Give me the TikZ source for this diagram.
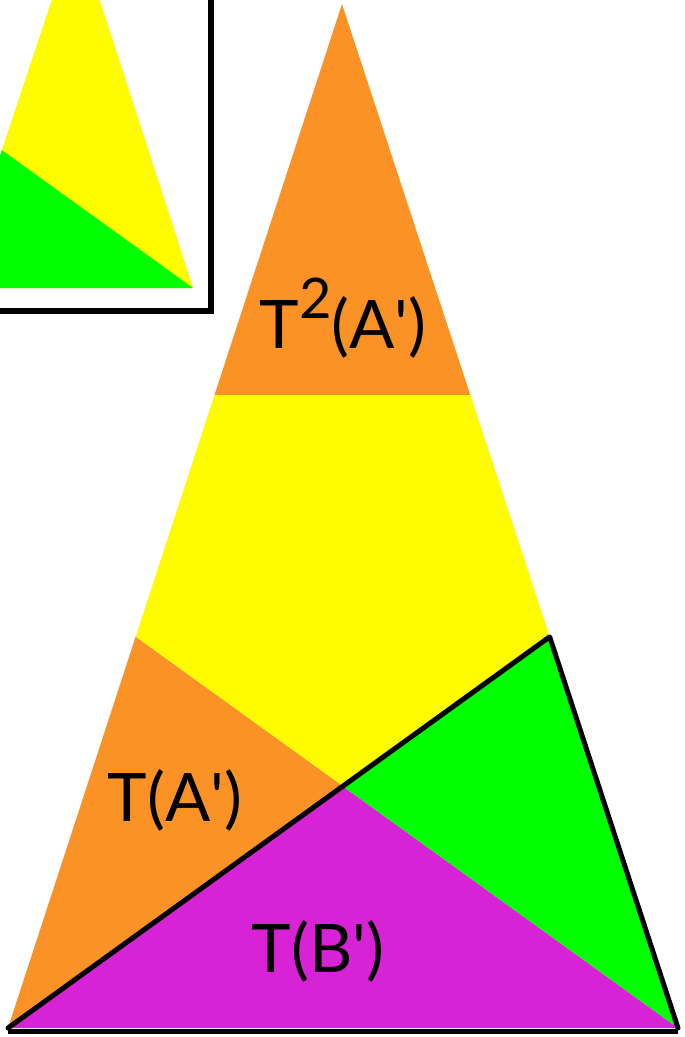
\documentclass[tikz,border=0pt]{standalone}
\usepackage{fontspec}
\setmainfont{Lato}
\usetikzlibrary{positioning, calc}

\definecolor{orangeA}{RGB}{250,146,38}
\definecolor{yellowA}{RGB}{255,252,0}
\definecolor{greenB}{RGB}{0,255,0}
\definecolor{magentaB}{RGB}{216,34,214}

\begin{document}
\begin{tikzpicture}[x=1pt, y=-1pt,
    lbl/.style={anchor=base, inner sep=0pt, font=\fontsize{67}{72}\selectfont},
    edge/.style={line width=5pt, line join=round, line cap=round}]
  \useasboundingbox (0,0) rectangle (685,1037);

  % Inset: the original triangle, cut by its frame
  \coordinate (itop) at (76,-73);
  \coordinate (ibl) at (-44,288);
  \coordinate (ibr) at (193,288);
  \coordinate (iml) at ($(ibl)!0.382!(itop)$);
  \begin{scope}
    \clip (-20,-20) rectangle (211,311);
    \fill[yellowA] (itop) -- (ibl) -- (ibr) -- cycle;
    \fill[greenB] (iml) -- (ibl) -- (ibr) -- cycle;
  \end{scope}
  \draw[line width=6pt] (-20,-20) rectangle (211,311);

  % Big triangle corners
  \coordinate (top) at (342,4);
  \coordinate (bl) at (8,1028);
  \coordinate (br) at (678,1028);

  % Golden cuts on the sides
  \coordinate (cl) at ($(top)!0.382!(bl)$);
  \coordinate (cr) at ($(top)!0.382!(br)$);
  \coordinate (ml) at ($(bl)!0.382!(top)$);
  \coordinate (mr) at ($(br)!0.382!(top)$);
  \coordinate (x) at (intersection of ml--br and bl--mr);

  % Pieces
  \fill[orangeA] (top) -- (cl) -- (cr) -- cycle;
  \fill[yellowA] (cl) -- (cr) -- (mr) -- (x) -- (ml) -- cycle;
  \fill[orangeA] (ml) -- (x) -- (bl) -- cycle;
  \fill[magentaB] (bl) -- (x) -- (br) -- cycle;
  \fill[greenB] (x) -- (mr) -- (br) -- cycle;

  % Black outline of T(B) and base
  \draw[edge] (bl) -- (mr) -- (br);
  \coordinate (bbl) at (8,1031);
  \coordinate (bbr) at (678,1031);
  \draw[line width=5pt] (bbl) -- (bbr);

  % Labels
  \node[lbl] (tta) at (343,348) {T\raisebox{30pt}{\fontsize{56}{56}\selectfont 2}(A\textquotesingle)};
  \node[lbl] (ta) at (175,821) {T(A\textquotesingle)};
  \node[lbl] (tb) at (318,972) {T(B\textquotesingle)};
\end{tikzpicture}
\end{document}
